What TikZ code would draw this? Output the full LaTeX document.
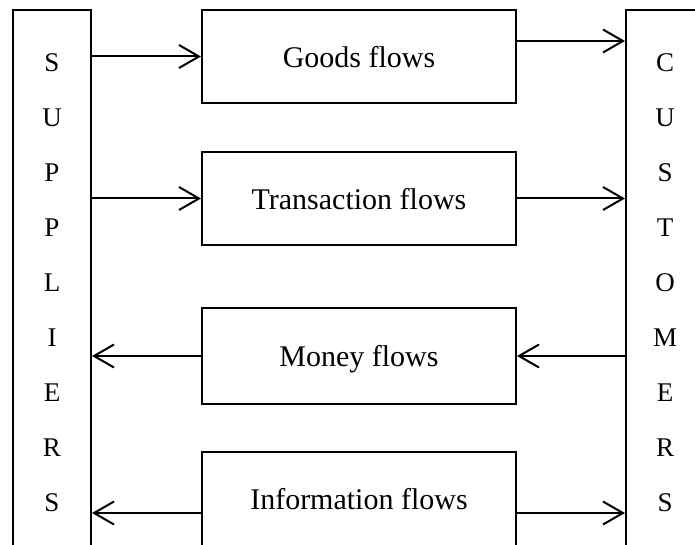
\documentclass[tikz,border=0pt]{standalone}
\usepackage{fontspec}
\setmainfont{Liberation Serif}
\usetikzlibrary{arrows.meta}

\begin{document}
\begin{tikzpicture}[x=1pt, y=-1pt,
    bar/.style={draw, line width=2pt, minimum width=78pt, minimum height=560pt},
    letter/.style={font=\fontsize{27}{30}\selectfont},
    flowbox/.style={draw, line width=2pt, minimum width=314pt, minimum height=93pt,
        text depth=0pt, font=\fontsize{30}{33}\selectfont},
    flow/.style={-{Straight Barb[length=20pt, width=23pt]}, line width=2pt}]
    % page frame
    \clip (0,0) rectangle (695,545);

    % side bars
    \node[bar] (sup) at (52,290) {};
    \node[bar] (cus) at (665,290) {};
    \foreach \l [count=\i] in {S,U,P,P,L,I,E,R,S}
        \node[letter] (s\i) at (52,{63+55*(\i-1)}) {\l};
    \foreach \l [count=\i] in {C,U,S,T,O,M,E,R,S}
        \node[letter] (c\i) at (665,{63+55*(\i-1)}) {\l};

    % flow boxes
    \node[flowbox] (goods) at (359,56.5) {Goods flows};
    \node[flowbox] (trans) at (359,198.5) {Transaction flows};
    \node[flowbox, minimum height=96pt] (money) at (359,356) {Money flows};
    \node[flowbox, minimum height=94pt] (info) at (359,499) {Information flows};

    % goods
    \draw[flow] (goods.west -| sup.east) -- (goods.west);
    \coordinate (goodsR) at ([yshift=15.5pt]goods.east);
    \draw[flow] (goodsR) -- (goodsR -| cus.west);

    % transactions
    \draw[flow] (trans.west -| sup.east) -- (trans.west);
    \draw[flow] (trans.east) -- (trans.east -| cus.west);

    % money
    \draw[flow] (money.west) -- (money.west -| sup.east);
    \draw[flow] (money.east -| cus.west) -- (money.east);

    % information
    \coordinate (infoL) at ([yshift=-14pt]info.west);
    \coordinate (infoR) at ([yshift=-14pt]info.east);
    \draw[flow] (infoL) -- (infoL -| sup.east);
    \draw[flow] (infoR) -- (infoR -| cus.west);
\end{tikzpicture}
\end{document}
